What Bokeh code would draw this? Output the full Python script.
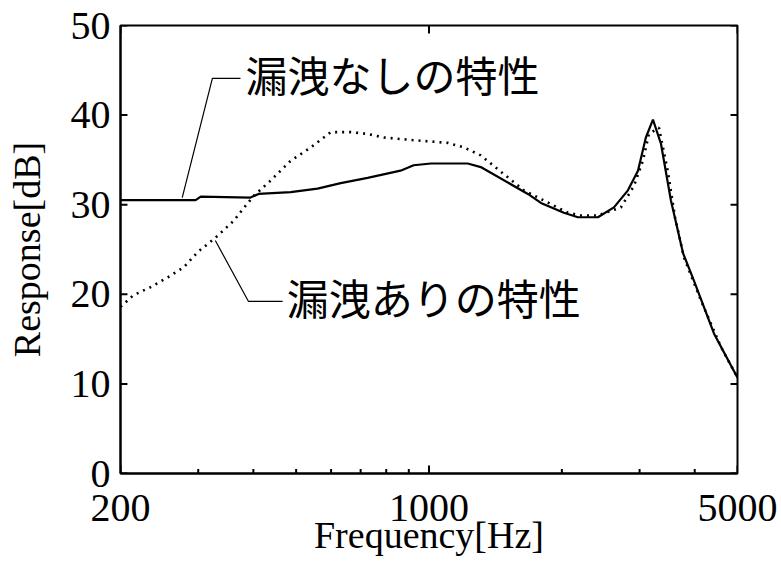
from bokeh.plotting import figure
from bokeh.models import LogAxis, LinearAxis, FixedTicker, Range1d, LogScale
from bokeh.core.properties import value
from bokeh.embed import file_html
from bokeh.resources import INLINE

# ---- data ----
freq_solid = [200, 296, 304, 394, 411, 486, 559, 631, 726, 862, 923, 1010, 1224, 1310,
              1675, 1793, 2021, 2174, 2414, 2624, 2823, 2975, 3100, 3217, 3354, 3532,
              3763, 3985, 4424, 5000]
resp_solid = [30.5, 30.5, 30.9, 30.8, 31.2, 31.4, 31.8, 32.4, 33.0, 33.8, 34.4, 34.6, 34.6, 34.2,
              31.2, 30.2, 29.1, 28.6, 28.6, 29.7, 31.6, 33.8, 37.5, 39.5, 36.8, 30.5,
              24.6, 21.5, 15.6, 10.7]

freq_dotted = [200, 214, 234, 256, 278, 299, 328, 361, 380, 401, 438, 461, 486, 540, 599,
               665, 726, 790, 923, 1103, 1199, 1310, 1641, 2064, 2208, 2414, 2722, 2913,
               3052, 3150, 3319, 3480, 3609, 3782, 4132, 4589, 5000]
resp_dotted = [18.6, 19.9, 20.8, 21.9, 23.0, 24.7, 26.3, 28.2, 29.6, 31.0, 32.7, 33.8, 34.9, 36.4, 38.1,
               38.1, 37.9, 37.5, 37.2, 36.9, 36.4, 35.5, 31.6, 29.1, 28.8, 28.8, 29.7, 32.1,
               34.9, 37.9, 38.6, 33.6, 28.6, 24.1, 19.3, 14.1, 10.7]

x_major_ticks = [200, 1000, 5000]
x_minor_ticks = [300, 400, 500, 600, 700, 800, 900, 2000, 3000, 4000]
y_ticks = [0, 10, 20, 30, 40, 50]

label_no_leak = "漏洩なしの特性"
label_leak = "漏洩ありの特性"
# annotation anchors (data units): leader polyline and text position
leader1_x = [276, 323, 374]
leader1_y = [30.8, 44.1, 44.1]
text1_x, text1_y = 384, 44.6
leader2_x = [328, 390, 466]
leader2_y = [26.0, 19.2, 19.2]
text2_x, text2_y = 476, 19.7

SERIF = "Liberation Serif"
X_LO, X_HI = x_major_ticks[0], x_major_ticks[-1]
Y_LO, Y_HI = y_ticks[0], y_ticks[-1]
# inward tick lengths (style constants)
MAJOR_LEN_Y = 0.9      # y data units (~8 px)
MINOR_LEN_Y = 0.5      # ~4.5 px
TICK_FACTOR_X = 1.037  # log-x multiplicative length (~7 px)

p = figure(width=781, height=571, x_range=Range1d(X_LO, X_HI), y_range=Range1d(Y_LO, Y_HI),
           x_axis_type=None, y_axis_type=None,
           output_backend="svg", toolbar_location=None,
           min_border_left=120, min_border_right=44, min_border_top=25, min_border_bottom=98)
p.x_scale = LogScale()
p.xgrid.visible = False
p.ygrid.visible = False
p.background_fill_color = "white"
p.border_fill_color = "white"
p.outline_line_color = "black"
p.outline_line_width = 2

def style_axis(ax):
    ax.axis_line_color = "black"
    ax.axis_line_width = 2
    ax.major_tick_line_color = None
    ax.minor_tick_line_color = None
    ax.major_label_text_font = SERIF
    ax.major_label_text_font_size = "40px"
    ax.major_label_text_color = "black"
    ax.axis_label_text_font = SERIF
    ax.axis_label_text_font_size = "38px"
    ax.axis_label_text_font_style = "normal"
    ax.axis_label_text_color = "black"

xb = LogAxis(ticker=FixedTicker(ticks=x_major_ticks, minor_ticks=x_minor_ticks),
             axis_label="Frequency[Hz]")
style_axis(xb)
xb.major_label_overrides = {t: str(t) for t in x_major_ticks}
xb.major_label_standoff = 15
xb.axis_label_standoff = -10
p.add_layout(xb, "below")

yl = LinearAxis(ticker=FixedTicker(ticks=y_ticks, minor_ticks=[]), axis_label="Response[dB]")
style_axis(yl)
yl.major_label_standoff = 4
yl.axis_label_standoff = 20
p.add_layout(yl, "left")

# inward tick marks drawn as segments from the frame edges
TK = dict(line_color="black", line_width=2)
nM, nm, ny = len(x_major_ticks), len(x_minor_ticks), len(y_ticks)
p.segment(x0=x_major_ticks, y0=[Y_LO] * nM, x1=x_major_ticks, y1=[Y_LO + MAJOR_LEN_Y] * nM, **TK)
p.segment(x0=x_minor_ticks, y0=[Y_LO] * nm, x1=x_minor_ticks, y1=[Y_LO + MINOR_LEN_Y] * nm, **TK)
p.segment(x0=x_major_ticks, y0=[Y_HI] * nM, x1=x_major_ticks, y1=[Y_HI - MAJOR_LEN_Y] * nM, **TK)
p.segment(x0=[X_LO] * ny, y0=y_ticks, x1=[X_LO * TICK_FACTOR_X] * ny, y1=y_ticks, **TK)
p.segment(x0=[X_HI] * ny, y0=y_ticks, x1=[X_HI / TICK_FACTOR_X] * ny, y1=y_ticks, **TK)

p.line(freq_solid, resp_solid, line_color="black", line_width=2.2)
p.line(freq_dotted, resp_dotted, line_color="black", line_width=2.6, line_dash="2 5")

p.line(leader1_x, leader1_y, line_color="black", line_width=1.2)
p.line(leader2_x, leader2_y, line_color="black", line_width=1.2)
p.text([text1_x], [text1_y], text=[label_no_leak], text_font=value("Noto Sans CJK JP"),
       text_font_size="42px", text_baseline="middle", text_align="left", text_color="black")
p.text([text2_x], [text2_y], text=[label_leak], text_font=value("Noto Sans CJK JP"),
       text_font_size="42px", text_baseline="middle", text_align="left", text_color="black")

open("out.html", "w").write(file_html(p, INLINE))
